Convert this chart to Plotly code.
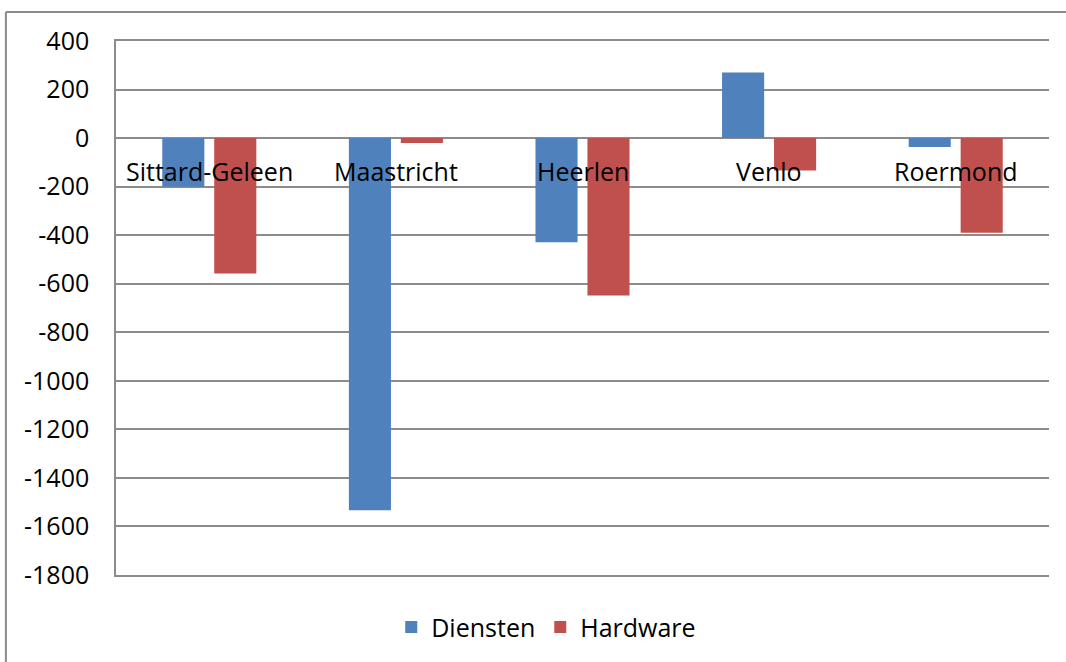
import plotly.graph_objects as go

categories = ["Sittard-Geleen", "Maastricht", "Heerlen", "Venlo", "Roermond"]
diensten = [-200, -1533, -429, 270, -37]
hardware = [-558, -20, -649, -134, -390]
tick_vals = [400, 200, 0, -200, -400, -600, -800, -1000, -1200, -1400, -1600, -1800]
tick_text = [str(v) for v in tick_vals]

FONT = "Open Sans"
FS = 25
GRID = "#8c8c8c"
fig = go.Figure()
fig.add_trace(go.Bar(name="Diensten", x=categories, y=diensten, marker=dict(color="#4f81bd", line=dict(width=0))))
fig.add_trace(go.Bar(name="Hardware", x=categories, y=hardware, marker=dict(color="#c0504d", line=dict(width=0))))

for c in categories:
    fig.add_annotation(x=c, y=0, xref="x", yref="y", text=c, showarrow=False,
                       yanchor="top", yshift=-14, font=dict(family=FONT, size=FS, color="#000000"))

fig.update_layout(
    width=1066, height=662,
    margin=dict(l=116, r=17, t=41, b=85),
    paper_bgcolor="white", plot_bgcolor="white",
    barmode="group", bargap=0.443, bargroupgap=0.19,
    font=dict(family=FONT, size=FS, color="#000000"),
    showlegend=True,
    legend=dict(orientation="h", x=0.295, xanchor="left", y=-0.055, yanchor="top",
                font=dict(family=FONT, size=FS), itemwidth=30, traceorder="normal"),
    xaxis=dict(showticklabels=False, showgrid=False, zeroline=False, showline=True, mirror=True,
               linecolor=GRID, linewidth=1.5, ticks=""),
    yaxis=dict(range=[-1800, 400], tickvals=tick_vals, ticktext=tick_text, showgrid=True,
               gridcolor=GRID, gridwidth=1.5,
               zeroline=False, showline=True, linecolor=GRID, linewidth=1.5, ticks="",
               ticklabelstandoff=20, tickfont=dict(family=FONT, size=FS)),
    shapes=[dict(type="line", xref="paper", yref="paper", x0=-0.118, x1=1.05, y0=1.0541, y1=1.0541,
                 line=dict(color=GRID, width=2)),
            dict(type="line", xref="paper", yref="paper", x0=-0.118, x1=-0.118, y0=1.0541, y1=-0.2,
                 line=dict(color=GRID, width=2))],
)
fig.write_html("out.html", config={"displayModeBar": False},
               post_script="document.body.style.margin='0';")
